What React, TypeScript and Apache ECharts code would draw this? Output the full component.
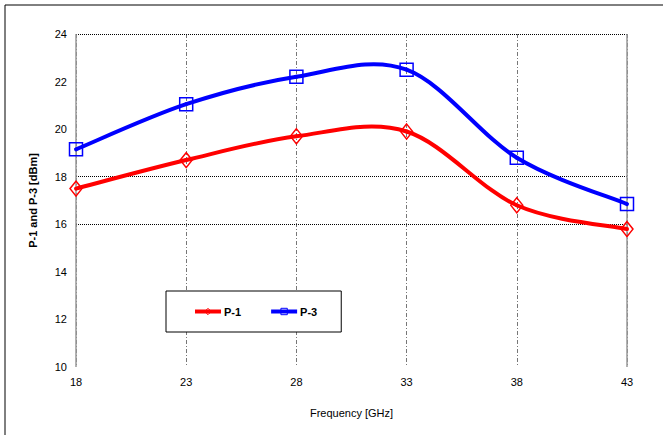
import React, { useEffect, useRef } from "react";
import * as echarts from "echarts";

const frequencies = [18, 23, 28, 33, 38, 43];
const p1Values = [17.5, 18.7, 19.7, 19.9, 16.8, 15.8];
const p3Values = [19.15, 21.05, 22.2, 22.5, 18.8, 16.85];
const xTicks = { min: 18, max: 43, interval: 5 };
const yTicks = { min: 10, max: 24, interval: 2 };
const hLines = [16, 18, 24];

function splineSeries(name: string, values: number[], color: string) {
  return {
    name,
    type: "custom",
    z: 3,
    silent: true,
    encode: { x: 0, y: 1 },
    data: frequencies.map((f, i) => [f, values[i]]),
    renderItem: (params: any, api: any) => {
      const i = params.dataIndex;
      const n = values.length;
      if (i >= n - 1) return { type: "group", children: [] };
      const pt = (k: number) => {
        const kk = Math.max(0, Math.min(n - 1, k));
        return api.coord([frequencies[kk], values[kk]]);
      };
      const p0 = pt(i - 1);
      const p1 = pt(i);
      const p2 = pt(i + 1);
      const p3 = pt(i + 2);
      return {
        type: "bezierCurve",
        shape: {
          x1: p1[0],
          y1: p1[1],
          x2: p2[0],
          y2: p2[1],
          cpx1: p1[0] + (p2[0] - p0[0]) / 6,
          cpy1: p1[1] + (p2[1] - p0[1]) / 6,
          cpx2: p2[0] - (p3[0] - p1[0]) / 6,
          cpy2: p2[1] - (p3[1] - p1[1]) / 6,
        },
        style: { stroke: color, lineWidth: 4, fill: null, lineCap: "round" },
      };
    },
  };
}

export default function App() {
  const ref = useRef<HTMLDivElement>(null);
  useEffect(() => {
    const chart = echarts.init(ref.current!, null, { renderer: "svg" });
    const font = "Liberation Sans, Arial, sans-serif";
    chart.setOption({
      animation: false,
      backgroundColor: "#fff",
      textStyle: { fontFamily: font },
      grid: { left: 76, right: 36, top: 34, bottom: 68 },
      graphic: [
        {
          type: "rect",
          shape: { x: 5, y: 5, width: 700, height: 500 },
          style: { fill: "none", stroke: "#000", lineWidth: 1 },
          silent: true,
        },
      ],
      legend: {
        left: 166,
        top: 291,
        orient: "horizontal",
        backgroundColor: "#fff",
        borderColor: "#000",
        borderWidth: 1,
        padding: [15, 24, 15, 27],
        itemWidth: 26,
        itemHeight: 8,
        itemGap: 28,
        textStyle: { fontSize: 11, fontWeight: "bold", color: "#000", padding: [0, 0, 0, -2] },
        data: [
          {
            name: "P-1",
            lineStyle: { color: "#ff0000", width: 4, opacity: 1 },
            itemStyle: { color: "rgba(255,255,255,0)", borderColor: "#ff0000", borderWidth: 1 },
          },
          {
            name: "P-3",
            lineStyle: { color: "#0000ff", width: 4, opacity: 1 },
            itemStyle: { color: "rgba(255,255,255,0)", borderColor: "#0000ff", borderWidth: 1 },
          },
        ],
      },
      xAxis: {
        type: "value",
        min: xTicks.min,
        max: xTicks.max,
        interval: xTicks.interval,
        name: "Frequency [GHz]",
        nameLocation: "middle",
        nameGap: 40,
        nameTextStyle: { fontSize: 11, color: "#000" },
        axisLine: { show: false },
        axisTick: { show: false },
        axisLabel: { fontSize: 11, color: "#000", margin: 9 },
        splitLine: {
          show: true,
          lineStyle: { color: "#777", width: 1, type: [4, 2, 1, 2] },
        },
      },
      yAxis: {
        type: "value",
        min: yTicks.min,
        max: yTicks.max,
        interval: yTicks.interval,
        name: "P-1 and P-3 [dBm]",
        nameLocation: "middle",
        nameGap: 38,
        nameTextStyle: { fontSize: 11, color: "#000", fontWeight: "bold" },
        axisLine: { show: false },
        axisTick: { show: false },
        axisLabel: { fontSize: 11, color: "#000", margin: 9 },
        splitLine: { show: false },
      },
      series: [
        {
          name: "P-3",
          type: "line",
          data: frequencies.map((f, i) => [f, p3Values[i]]),
          symbol: "rect",
          symbolSize: 13,
          lineStyle: { color: "#0000ff", width: 4, opacity: 0 },
          itemStyle: { color: "rgba(255,255,255,0)", borderColor: "#0000ff", borderWidth: 1.5 },
          z: 4,
          markLine: {
            silent: true,
            symbol: "none",
            label: { show: false },
            z: 1,
            data: [
              ...hLines.map((v) => ({
                yAxis: v,
                lineStyle: { color: "#000", width: 1, type: [1, 1] },
              })),
              { xAxis: xTicks.min, lineStyle: { color: "#999", width: 1.5, type: "solid" } },
              { xAxis: xTicks.max, lineStyle: { color: "#999", width: 1.5, type: "solid" } },
            ],
          },
        },
        {
          name: "P-1",
          type: "line",
          data: frequencies.map((f, i) => [f, p1Values[i]]),
          symbol: "diamond",
          symbolSize: [12, 15],
          lineStyle: { color: "#ff0000", width: 4, opacity: 0 },
          itemStyle: { color: "rgba(255,255,255,0)", borderColor: "#ff0000", borderWidth: 1.5 },
          z: 4,
        },
        splineSeries("P-3", p3Values, "#0000ff"),
        splineSeries("P-1", p1Values, "#ff0000"),
      ],
    });
    return () => chart.dispose();
  }, []);
  return (
    <div
      ref={ref}
      style={{ position: "fixed", left: 0, top: 0, width: 663, height: 435 }}
    />
  );
}
